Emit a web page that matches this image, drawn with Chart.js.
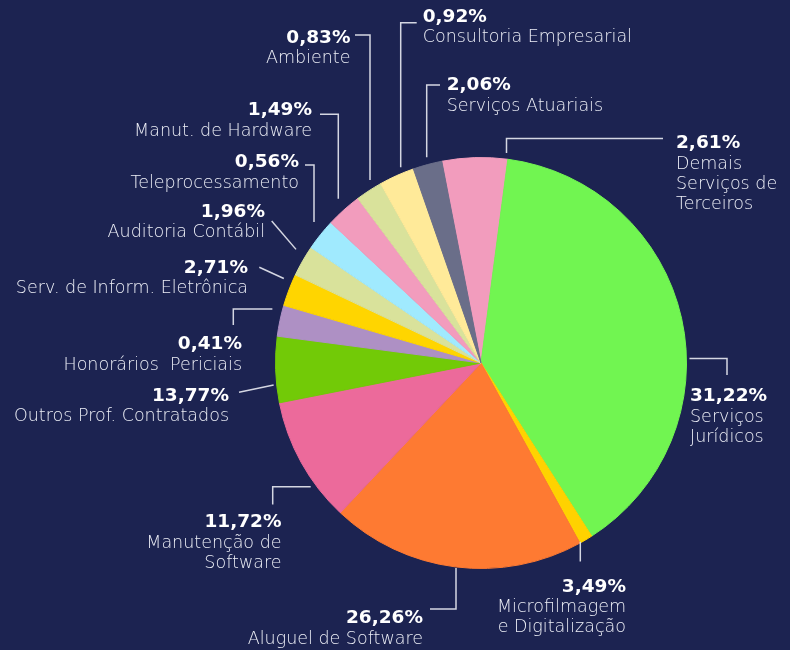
<!DOCTYPE html>
<html lang="pt-BR">
<head>
    <meta charset="UTF-8">
    <title>Outros Serviços de Terceiros</title>
    <style>
        html, body { margin: 0; background: #1c2351; }
        canvas { display: block; }
    </style>
</head>
<body>

    <canvas id="myChart" width="790" height="650"></canvas>

    <script src="https://cdn.jsdelivr.net/npm/chart.js"></script>
    <script>
        // clockwise, starting with the pink slice just left of 12 o'clock
        const categories = [
            'Demais Serviços de Terceiros', 'Serviços Jurídicos', 'Microfilmagem e Digitalização',
            'Aluguel de Software', 'Manutenção de Software', 'Outros Prof. Contratados',
            'Honorários Periciais', 'Serv. de Inform. Eletrônica', 'Auditoria Contábil',
            'Teleprocessamento', 'Manut. de Hardware', 'Ambiente',
            'Consultoria Empresarial', 'Serviços Atuariais'
        ];
        // slice sizes as drawn (share of the circle, %)
        const shares = [5.14, 38.86, 1.06, 20.0, 9.89, 5.19, 2.44, 2.53, 2.44, 2.47, 2.81, 2.11, 2.78, 2.28];
        // percentages printed next to each slice
        const percents = [2.61, 31.22, 3.49, 26.26, 11.72, 13.77, 0.41, 2.71, 1.96, 0.56, 1.49, 0.83, 0.92, 2.06];
        const nameLines = [
            ['Demais', 'Serviços de', 'Terceiros'],
            ['Serviços', 'Jurídicos'],
            ['Microfilmagem', 'e Digitalização'],
            ['Aluguel de Software'],
            ['Manutenção de', 'Software'],
            ['Outros Prof. Contratados'],
            ['Honorários  Periciais'],
            ['Serv. de Inform. Eletrônica'],
            ['Auditoria Contábil'],
            ['Teleprocessamento'],
            ['Manut. de Hardware'],
            ['Ambiente'],
            ['Consultoria Empresarial'],
            ['Serviços Atuariais']
        ];
        const sliceColors = [
            '#f29cbd', '#71f551', '#ffd200', '#fe7a32', '#ec6a9b', '#72ca07', '#ae90c4',
            '#ffd500', '#d9e29b', '#a0eafe', '#f29cbd', '#d9e29b', '#ffea99', '#6a6e89'
        ];

        // where each label sits, and the elbows of its leader line
        // (the last leg runs along dir until it is `gap` px off the pie)
        const labelLayout = [
            { x: 676, y: 148, align: 'left',  pts: [[663, 138.5], [506.5, 138.5]], dir: [0, 1], gap: 6 },
            { x: 690, y: 401, align: 'left',  pts: [[727, 375], [727, 358.5]], dir: [-1, 0], gap: 3 },
            { x: 626, y: 591.5, align: 'right', pts: [[580.3, 561.5]], dir: [0, -1], gap: -1 },
            { x: 423, y: 623, align: 'right', pts: [[430, 609], [456, 609]], dir: [0, -1], gap: 1 },
            { x: 281.5, y: 527, align: 'right', pts: [[272.7, 504.5], [272.7, 486.7]], dir: [1, 0], gap: 5 },
            { x: 229, y: 400.7, align: 'right', pts: [[239, 392.3]], dir: [34.3, -7.3], gap: 3 },
            { x: 242, y: 349.3, align: 'right', pts: [[233.3, 325], [233.3, 309]], dir: [1, 0], gap: 10 },
            { x: 248, y: 272.7, align: 'right', pts: [[259.3, 267.3]], dir: [24, 11], gap: 9 },
            { x: 265, y: 216.7, align: 'right', pts: [[271.7, 221]], dir: [24, 28], gap: 11.6 },
            { x: 299, y: 167.3, align: 'right', pts: [[305, 165], [314, 165]], dir: [0, 1], gap: 13 },
            { x: 312, y: 115, align: 'right', pts: [[320, 114.3], [338.3, 114.3]], dir: [0, 1], gap: 12 },
            { x: 350.5, y: 42.7, align: 'right', pts: [[355, 35], [370, 35]], dir: [0, 1], gap: 8.6 },
            { x: 422.7, y: 21.7, align: 'left', pts: [[416.7, 22.7], [400.7, 22.7]], dir: [0, 1], gap: 6 },
            { x: 446.7, y: 90, align: 'left', pts: [[440, 85], [426.7, 85]], dir: [0, 1], gap: 7.3 }
        ];

        const leaderLabels = {
            id: 'leaderLabels',
            afterDatasetsDraw(chart) {
                const ctx = chart.ctx;
                const arcs = chart.getDatasetMeta(0).data;
                ctx.save();
                arcs.forEach((arc, i) => {
                    const L = labelLayout[i];
                    const p = L.pts[L.pts.length - 1];
                    const len = Math.hypot(L.dir[0], L.dir[1]);
                    const dx = L.dir[0] / len, dy = L.dir[1] / len;
                    const fx = p[0] - arc.x, fy = p[1] - arc.y;
                    const R = arc.outerRadius + L.gap;
                    const b = fx * dx + fy * dy;
                    const c = fx * fx + fy * fy - R * R;
                    const t = -b - Math.sqrt(Math.max(b * b - c, 0));

                    ctx.strokeStyle = 'rgba(222, 224, 234, 0.95)';
                    ctx.lineWidth = 1.5;
                    ctx.beginPath();
                    ctx.moveTo(L.pts[0][0], L.pts[0][1]);
                    for (let k = 1; k < L.pts.length; k++) ctx.lineTo(L.pts[k][0], L.pts[k][1]);
                    ctx.lineTo(p[0] + dx * t, p[1] + dy * t);
                    ctx.stroke();

                    ctx.textAlign = L.align;
                    ctx.textBaseline = 'alphabetic';
                    ctx.fillStyle = '#ffffff';
                    ctx.font = 'bold 18.5px "DejaVu Sans"';
                    ctx.fillText(percents[i].toFixed(2).replace('.', ',') + '%', L.x, L.y);

                    ctx.fillStyle = '#eceef6';
                    ctx.font = '200 17.5px "DejaVu Sans"';
                    nameLines[i].forEach((s, k) => ctx.fillText(s, L.x, L.y + 20.5 + 20 * k));
                });
                ctx.restore();
            }
        };

        new Chart(document.getElementById('myChart'), {
            type: 'pie',
            data: {
                labels: categories,
                datasets: [{
                    data: shares,
                    backgroundColor: sliceColors,
                    borderColor: sliceColors,
                    borderWidth: 1,
                    hoverOffset: 0
                }]
            },
            options: {
                responsive: false,
                animation: false,
                rotation: -11,
                layout: { padding: { left: 275, right: 103, top: 157, bottom: 81 } },
                plugins: {
                    legend: { display: false },
                    tooltip: { enabled: false }
                }
            },
            plugins: [leaderLabels]
        });
    </script>

</body>
</html>
